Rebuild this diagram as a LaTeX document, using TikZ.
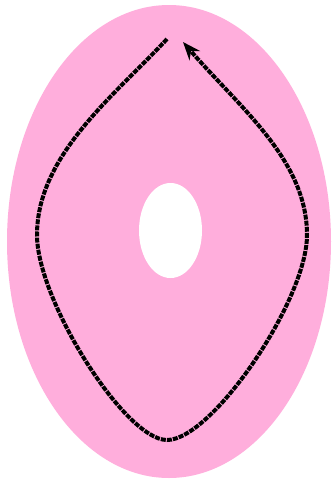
\documentclass[tikz,border=0pt]{standalone}
\usetikzlibrary{arrows.meta}
\definecolor{ringpink}{RGB}{255,174,220}
\tikzset{
  loopline/.style={line width=4pt, dash pattern=on 5pt off 1.1pt, black},
}
\begin{document}
\begin{tikzpicture}[x=1pt,y=-1pt]
\useasboundingbox (0,0) rectangle (334,480);
\fill[white] (0,0) rectangle (334,480);
\fill[ringpink] (169,241.5) ellipse [x radius=162, y radius=236.5];
\fill[white] (170.5,230.5) ellipse [x radius=31.5, y radius=47.5];
\coordinate (s) at (167,39);
\coordinate (l) at (37,235);
\coordinate (b) at (167,440);
\coordinate (r) at (307,235);
\coordinate (e) at (183,42);
\draw[loopline, -{Stealth[length=18pt,width=14pt]}]
  (s) .. controls (115,95) and (37,155) .. (l)
      .. controls (37,300) and (125,440) .. (b)
      .. controls (212,440) and (307,300) .. (r)
      .. controls (307,160) and (240,108) .. (e);
\end{tikzpicture}
\end{document}
